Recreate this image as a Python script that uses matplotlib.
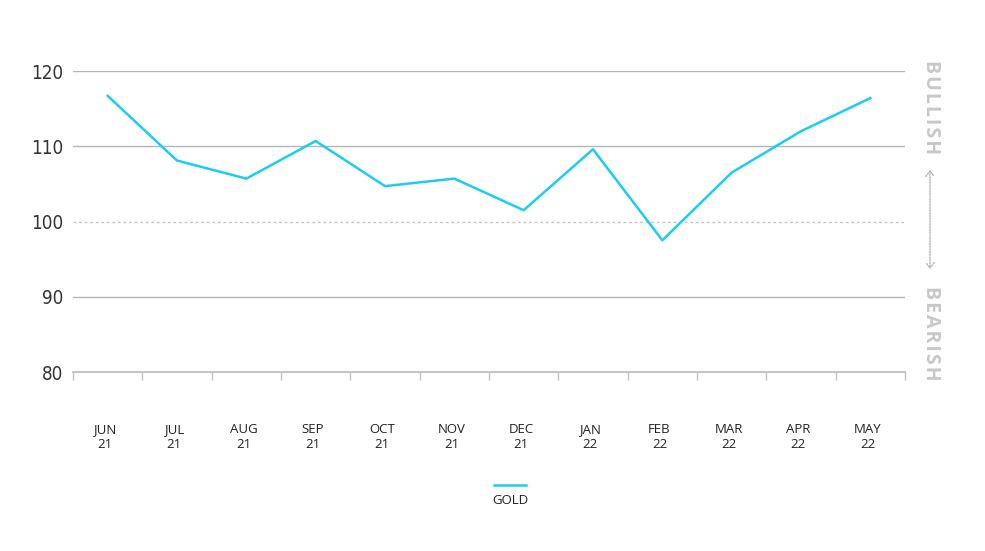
import matplotlib
matplotlib.use("Agg")
import matplotlib.pyplot as plt
from matplotlib.patches import FancyArrowPatch

months = ["JUN", "JUL", "AUG", "SEP", "OCT", "NOV", "DEC", "JAN", "FEB", "MAR", "APR", "MAY"]
years = ["21", "21", "21", "21", "21", "21", "21", "22", "22", "22", "22", "22"]
gold = [116.7, 108.1, 105.7, 110.7, 104.7, 105.7, 101.5, 109.6, 97.5, 106.5, 112.0, 116.4]
yticks = [80, 90, 100, 110, 120]

W, H = 985, 551
fig = plt.figure(figsize=(W / 100, H / 100), dpi=100)
ax = fig.add_axes([73 / W, (H - 372) / H, (905 - 73) / W, (372 - 71) / H])

n = len(months)
x = [i + 0.5 for i in range(n)]
ax.set_xlim(0, n)
ax.set_ylim(80, 120)

grid_c = "#b5b5b5"
for v in yticks[1:]:
    if v == 100:
        ax.axhline(v, color="#c4c4c4", lw=1, ls=(0, (2, 2)), zorder=1)
    else:
        ax.axhline(v, color=grid_c, lw=1, zorder=1)

ax.plot(x, gold, color="#1ccdf0", lw=1.8, zorder=3, label="GOLD")

for s in ["top", "right", "left"]:
    ax.spines[s].set_visible(False)
ax.spines["bottom"].set_color("#c4c4c4")
ax.spines["bottom"].set_linewidth(1.5)
ax.set_xticks(range(n + 1))
ax.set_xticklabels([])
ax.tick_params(axis="x", length=6, color="#c4c4c4", width=1)
ax.set_xticks([v - 0.04 for v in x], minor=True)
ax.set_xticklabels([f"{m}\n{y}" for m, y in zip(months, years)], minor=True,
                   fontsize=9.5, family=["Open Sans", "DejaVu Sans"], color="#222222",
                   linespacing=1.2)
ax.tick_params(axis="x", which="minor", length=0, pad=37)

ax.set_yticks(yticks)
ax.set_yticklabels([str(v) for v in yticks], fontsize=13.5, fontstretch="condensed",
                   family=["DejaVu Sans", "Liberation Sans Narrow"], color="#333333")
ax.tick_params(axis="y", length=0, pad=7)

# right side labels
hs = "\u200a"
fig.text(931 / W, 1 - 107 / H, hs.join("BULLISH"), rotation=-90, ha="center", va="center",
         fontsize=14, fontweight="bold", color="#c8c8c8", family=["Open Sans", "DejaVu Sans"])
fig.text(931 / W, 1 - 333 / H, hs.join("BEARISH"), rotation=-90, ha="center", va="center",
         fontsize=14, fontweight="bold", color="#c8c8c8", family=["Open Sans", "DejaVu Sans"])
arr = FancyArrowPatch((930 / W, 1 - 167 / H), (930 / W, 1 - 272 / H), transform=fig.transFigure,
                      arrowstyle="<->,head_length=4,head_width=3", color="#b5b5b5",
                      lw=1, linestyle=(0, (1, 1)))
fig.patches.append(arr)

# legend
fig.add_artist(plt.Line2D([494 / W, 526 / W], [1 - 485 / H, 1 - 485 / H], color="#1ccdf0", lw=1.8))
fig.text(510 / W, 1 - 500 / H, "GOLD", ha="center", va="center", fontsize=9.5,
         family=["Open Sans", "DejaVu Sans"], color="#222222")

fig.savefig("out.png", dpi=100)
